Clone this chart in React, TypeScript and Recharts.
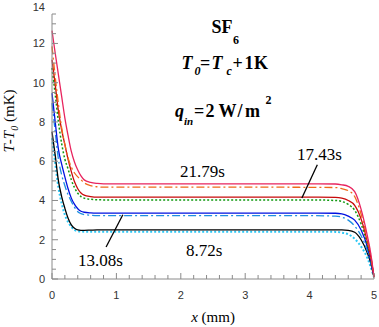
import { LineChart, Line, XAxis, YAxis, ReferenceLine } from 'recharts';

// positions along the cell, mm
const xs = [0, 0.05, 0.1, 0.15, 0.2, 0.25, 0.3, 0.35, 0.4, 0.45, 0.5, 0.6, 0.7, 0.8, 1, 2, 3, 4, 4.4, 4.5, 4.6, 4.7, 4.8, 4.9, 4.95, 5];

// T - T0 (mK)
const pink = [12.65, 11.5, 10.4, 9.3, 8.2, 7.3, 6.5, 5.95, 5.55, 5.25, 5.05, 4.92, 4.87, 4.85, 4.85, 4.85, 4.85, 4.85, 4.84, 4.8, 4.72, 4.45, 3.55, 2.15, 1.3, 0.1];
const orange = [11.85, 10.3, 8.9, 7.7, 6.85, 6.15, 5.7, 5.4, 5.2, 5.05, 4.9, 4.76, 4.7, 4.68, 4.68, 4.68, 4.68, 4.67, 4.66, 4.6, 4.5, 4.2, 3.3, 2.0, 1.2, 0.1];
const darkRed = [11.17, 9.9, 8.55, 7.6, 6.84, 6.1, 5.47, 4.95, 4.6, 4.38, 4.27, 4.2, 4.17, 4.17, 4.17, 4.17, 4.17, 4.17, 4.16, 4.12, 4.0, 3.75, 3.05, 1.85, 1.1, 0.1];
const green = [10.75, 9.4, 8.0, 6.9, 6.1, 5.6, 5.05, 4.65, 4.37, 4.2, 4.12, 4.06, 4.04, 4.03, 4.03, 4.03, 4.03, 4.03, 4.0, 3.95, 3.8, 3.5, 2.8, 1.7, 1.0, 0.1];
const blue = [9.47, 8.0, 6.6, 5.85, 5.2, 4.6, 4.12, 3.8, 3.58, 3.45, 3.4, 3.37, 3.36, 3.36, 3.36, 3.36, 3.36, 3.36, 3.35, 3.32, 3.2, 3.0, 2.5, 1.6, 0.9, 0.1];
const lightBlue = [8.96, 7.5, 6.1, 5.3, 4.75, 4.29, 3.95, 3.65, 3.43, 3.33, 3.28, 3.25, 3.23, 3.23, 3.23, 3.23, 3.23, 3.23, 3.2, 3.15, 3.0, 2.7, 2.2, 1.4, 0.8, 0.1];
const black = [7.5, 6.3, 5.0, 4.2, 3.6, 3.1, 2.76, 2.58, 2.5, 2.48, 2.48, 2.49, 2.5, 2.5, 2.5, 2.5, 2.5, 2.5, 2.5, 2.5, 2.48, 2.38, 2.0, 1.3, 0.8, 0.1];
const cyan = [7.18, 5.9, 4.65, 3.85, 3.27, 2.9, 2.65, 2.5, 2.44, 2.42, 2.41, 2.41, 2.41, 2.41, 2.41, 2.41, 2.41, 2.41, 2.4, 2.36, 2.28, 2.05, 1.65, 1.05, 0.6, 0.1];

const xTicks = [0, 0.2, 0.4, 0.6, 0.8, 1, 1.2, 1.4, 1.6, 1.8, 2, 2.2, 2.4, 2.6, 2.8, 3, 3.2, 3.4, 3.6, 3.8, 4, 4.2, 4.4, 4.6, 4.8, 5];
const yTicks = [0, 0.5, 1, 1.5, 2, 2.5, 3, 3.5, 4, 4.5, 5, 5.5, 6, 6.5, 7, 7.5, 8, 8.5, 9, 9.5, 10, 10.5, 11, 11.5, 12, 12.5, 13, 13.5, 14];
const yMax = 13.5;

const data = xs.map((x, i) => ({
  x,
  pink: pink[i],
  orange: orange[i],
  darkRed: darkRed[i],
  green: green[i],
  blue: blue[i],
  lightBlue: lightBlue[i],
  black: black[i],
  cyan: cyan[i],
}));

const AXIS = '#8a8a8a';
const SANS = 'Liberation Sans, Arial, sans-serif';
const SERIF = 'Liberation Serif, Times New Roman, serif';
const serif = { fontFamily: SERIF };

const isInt = (v: number) => Math.abs(v - Math.round(v)) < 1e-6;
const isEven = (v: number) => isInt(v) && Math.round(v) % 2 === 0;

const BottomTick = (props: any) => {
  const { x, y, payload } = props;
  const v = payload.value;
  return (
    <g>
      <line x1={x} x2={x} y1={y} y2={y - (isInt(v) ? 6 : 4)} stroke={AXIS} />
      {isInt(v) && (
        <text x={x} y={y + 19.5} textAnchor="middle" style={{ fontFamily: SANS }} fontSize={11} fill="#333">
          {Math.round(v)}
        </text>
      )}
    </g>
  );
};

const TopTick = (props: any) => {
  const { x, y, payload } = props;
  const v = payload.value;
  return <line x1={x} x2={x} y1={y} y2={y + (isInt(v) ? 6 : 4)} stroke={AXIS} />;
};

const LeftTick = (props: any) => {
  const { x, y, payload } = props;
  const v = payload.value;
  const ly = Math.max(y, 6.5);
  return (
    <g>
      {v <= yMax && <line x1={x} x2={x + (isEven(v) ? 6 : 4)} y1={y} y2={y} stroke={AXIS} />}
      {isEven(v) && (
        <text x={x - 7} y={ly + 4} textAnchor="end" style={{ fontFamily: SANS }} fontSize={11} fill="#333">
          {v}
        </text>
      )}
    </g>
  );
};

const RightTick = (props: any) => {
  const { x, y, payload } = props;
  const v = payload.value;
  if (v > yMax) return <g />;
  return <line x1={x} x2={x - (isEven(v) ? 6 : 4)} y1={y} y2={y} stroke={AXIS} />;
};

export default function App() {
  return (
    <div style={{ position: 'absolute', left: 0, top: 0, width: 379, height: 327, background: '#fff' }}>
      <LineChart width={379} height={327} data={data} margin={{ top: 14, right: 5, bottom: 0, left: 0 }}>
        <XAxis
          xAxisId="b"
          dataKey="x"
          type="number"
          domain={[0, 5]}
          ticks={xTicks}
          interval={0}
          height={48}
          tickSize={0}
          tickMargin={0}
          tickLine={false}
          axisLine={{ stroke: AXIS }}
          tick={BottomTick}
        />
        <XAxis
          xAxisId="t"
          orientation="top"
          dataKey="x"
          type="number"
          domain={[0, 5]}
          ticks={xTicks}
          interval={0}
          height={0}
          tickSize={0}
          tickMargin={0}
          tickLine={false}
          axisLine={{ stroke: AXIS }}
          tick={TopTick}
        />
        <YAxis
          yAxisId="l"
          type="number"
          domain={[0, yMax]}
          allowDataOverflow
          ticks={yTicks}
          interval={0}
          width={52}
          tickSize={0}
          tickMargin={0}
          tickLine={false}
          axisLine={{ stroke: AXIS }}
          tick={LeftTick}
        />
        <YAxis
          yAxisId="r"
          orientation="right"
          type="number"
          domain={[0, yMax]}
          allowDataOverflow
          ticks={yTicks}
          interval={0}
          width={0}
          tickSize={0}
          tickMargin={0}
          tickLine={false}
          axisLine={{ stroke: AXIS }}
          tick={RightTick}
        />
        <Line xAxisId="b" yAxisId="l" dataKey="cyan" type="monotone" stroke="#2ec8f5" strokeWidth={2} strokeDasharray="2 2" dot={false} isAnimationActive={false} />
        <Line xAxisId="b" yAxisId="l" dataKey="black" type="monotone" stroke="#000000" strokeWidth={1.3} dot={false} isAnimationActive={false} />
        <Line xAxisId="b" yAxisId="l" dataKey="lightBlue" type="monotone" stroke="#1e8fe0" strokeWidth={1.3} strokeDasharray="8 3 2 3" dot={false} isAnimationActive={false} />
        <Line xAxisId="b" yAxisId="l" dataKey="blue" type="monotone" stroke="#0010e0" strokeWidth={1.3} dot={false} isAnimationActive={false} />
        <Line xAxisId="b" yAxisId="l" dataKey="green" type="monotone" stroke="#119911" strokeWidth={1.5} strokeDasharray="2 2" dot={false} isAnimationActive={false} />
        <Line xAxisId="b" yAxisId="l" dataKey="darkRed" type="monotone" stroke="#c80a0a" strokeWidth={1.3} dot={false} isAnimationActive={false} />
        <Line xAxisId="b" yAxisId="l" dataKey="orange" type="monotone" stroke="#f06a1a" strokeWidth={1.3} strokeDasharray="8 3 2 3" dot={false} isAnimationActive={false} />
        <Line xAxisId="b" yAxisId="l" dataKey="pink" type="monotone" stroke="#e8245e" strokeWidth={1.3} dot={false} isAnimationActive={false} />
        <ReferenceLine xAxisId="b" yAxisId="l" segment={[{ x: 4.12, y: 5.82 }, { x: 3.88, y: 4.13 }]} stroke="#000" strokeWidth={1.3} />
        <ReferenceLine xAxisId="b" yAxisId="l" segment={[{ x: 0.84, y: 1.63 }, { x: 1.1, y: 3.27 }]} stroke="#000" strokeWidth={1.3} />
      </LineChart>
      <svg width={379} height={327} style={{ position: 'absolute', left: 0, top: 0, pointerEvents: 'none' }}>
        <g fill="#000">
          <text style={serif} fontWeight="bold" fontSize={18}>
            <tspan x={211.5} y={33.3}>SF</tspan>
            <tspan x={233} y={43.5} fontSize={12}>6</tspan>
          </text>
          <text style={serif} fontWeight="bold" fontSize={18}>
            <tspan x={181.5} y={68.5} fontStyle="italic">T</tspan>
            <tspan x={194.5} y={75} fontSize={12} fontStyle="italic">0</tspan>
            <tspan x={200} y={68.5}>=</tspan>
            <tspan x={211.5} y={68.5} fontStyle="italic">T</tspan>
            <tspan x={226.5} y={75} fontSize={12} fontStyle="italic">c</tspan>
            <tspan x={232.5} y={68.5}>+</tspan>
            <tspan x={244.5} y={68.5}>1</tspan>
            <tspan x={254} y={68.5}>K</tspan>
          </text>
          <text style={serif} fontWeight="bold" fontSize={18}>
            <tspan x={175} y={117.3} fontStyle="italic">q</tspan>
            <tspan x={184} y={124.5} fontSize={11} fontStyle="italic">in</tspan>
            <tspan x={194} y={117.3}>=</tspan>
            <tspan x={205.5} y={117.3}>2</tspan>
            <tspan x={218.5} y={117.3}>W</tspan>
            <tspan x={237.5} y={117.3}>/</tspan>
            <tspan x={245} y={117.3}>m</tspan>
            <tspan x={265.5} y={104} fontSize={12}>2</tspan>
          </text>
          <text style={serif} x={180} y={177} fontSize={17}>21.79s</text>
          <text style={serif} x={297} y={160} fontSize={17}>17.43s</text>
          <text style={serif} x={78} y={266} fontSize={17}>13.08s</text>
          <text style={serif} x={186} y={255.5} fontSize={17}>8.72s</text>
          <text style={serif} x={213} y={322} fontSize={15} textAnchor="middle">
            <tspan fontStyle="italic">x</tspan> (mm)
          </text>
          <text style={serif} transform="translate(13.5,121) rotate(-90)" fontSize={15} textAnchor="middle">
            <tspan fontStyle="italic">T</tspan>-<tspan fontStyle="italic">T</tspan>
            <tspan fontSize={10} dy={4} fontStyle="italic">0</tspan>
            <tspan dy={-4}> (mK)</tspan>
          </text>
        </g>
      </svg>
    </div>
  );
}
